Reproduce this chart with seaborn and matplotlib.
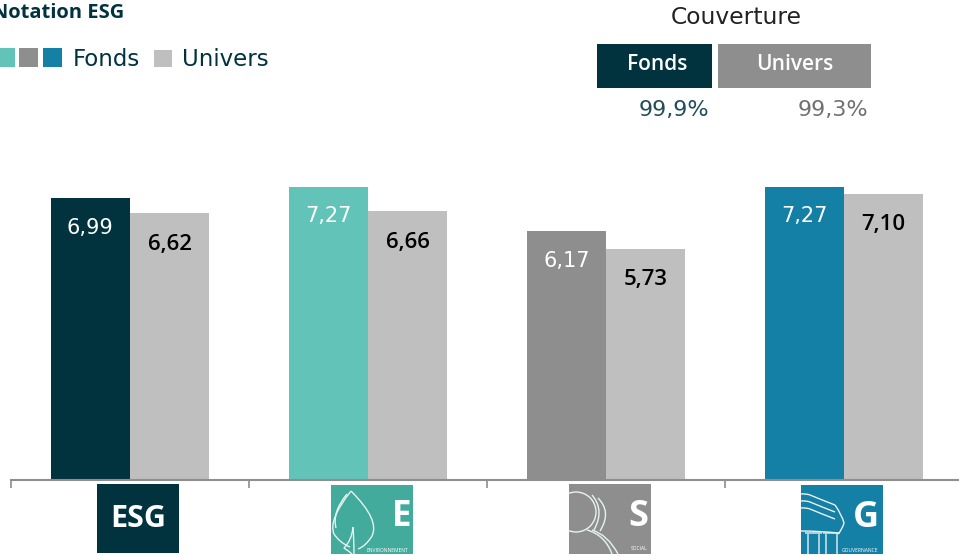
"""
    Notation ESG : Fonds against Univers
"""

#===== LIBRARIES =====================================
import pandas as pd
import seaborn as sns
from matplotlib import pyplot as plt
from matplotlib.patches import Rectangle, PathPatch, Circle
from matplotlib.path import Path

#===== DATA ==========================================
categories = ["ESG", "E", "S", "G"]
fonds_values = [6.99, 7.27, 6.17, 7.27]
univers_values = [6.62, 6.66, 5.73, 7.10]
series_names = ["Fonds", "Univers"]
couverture_values = ["99,9%", "99,3%"]

#===== COLOURS =======================================
DARK = "#01333F"
TEAL = "#62C4B8"
GREY = "#8E8E8E"
BLUE = "#1580A5"
LIGHT = "#BFBFBF"
LOGO_TEAL = "#42AB9B"
fonds_colors = [DARK, TEAL, GREY, BLUE]

W, H = 959, 556
FONT = "DejaVu Sans"
FONT_SEMI = "Open Sans"

sns.set_theme(style="white")
plt.rcParams["font.family"] = FONT

fig = plt.figure(figsize=(W / 100, H / 100), dpi=100)

# axes in pixels: baseline at y=480, first tick at x=11
ax = fig.add_axes([11 / W, (H - 480) / H, (W - 11) / W, 480 / H])

df = pd.DataFrame({
    "categorie": categories * 2,
    "serie": [series_names[0]] * 4 + [series_names[1]] * 4,
    "note": fonds_values + univers_values,
})
sns.barplot(data=df, x="categorie", y="note", hue="serie", order=categories,
            palette=[DARK, LIGHT], width=0.667, gap=0, saturation=1,
            linewidth=0, legend=False, ax=ax)

for bar, col in zip(ax.containers[0], fonds_colors):
    bar.set_facecolor(col)

for cont, vals, col in zip(ax.containers, [fonds_values, univers_values], ["white", "black"]):
    labels = [f"{v:.2f}".replace(".", ",") for v in vals]
    if col == "white":
        ax.bar_label(cont, labels=labels, padding=-28.5, color=col, fontsize=15)
    else:
        ax.bar_label(cont, labels=labels, padding=-30, color=col, fontsize=16,
                     family=FONT_SEMI, fontweight="semibold")

ax.set_xlim(-0.5, (W - 11) / 238 - 0.5)
ax.set_ylim(0, 480 / 40.35)
ax.set_xticks([-0.5, 0.5, 1.5, 2.5])
ax.set_xticklabels([])
ax.set_yticks([])
ax.set_xlabel("")
ax.set_ylabel("")
ax.tick_params(axis="x", bottom=True, length=6, width=1.2, color=GREY)
sns.despine(ax=ax, left=True)
ax.spines["bottom"].set_color(GREY)
ax.spines["bottom"].set_linewidth(1.5)

# overlay in pixel coordinates for header, legend and logos
ov = fig.add_axes([0, 0, 1, 1], facecolor="none")
ov.set_xlim(0, W)
ov.set_ylim(H, 0)
ov.axis("off")


def box(x0, y0, x1, y1, col):
    ov.add_patch(Rectangle((x0, y0), x1 - x0, y1 - y0, facecolor=col, edgecolor="none"))


def curve(points, lw=1.0):
    # quadratic segments: start, control, end, control, end ...
    codes = [Path.MOVETO] + [Path.CURVE3] * (len(points) - 1)
    ov.add_patch(PathPatch(Path(points, codes), facecolor="none", edgecolor="#E8F2F2", lw=lw))


# title and legend
ov.text(-8, 13, "Notation ESG", color=DARK, fontsize=14.5, family=FONT_SEMI, fontweight="bold", va="center", clip_on=False)
for x0, x1, col in [(-4, 15, TEAL), (19, 38, GREY), (43, 62, BLUE)]:
    box(x0, 48, x1, 67, col)
box(154, 50, 172, 67, LIGHT)
ov.text(73, 60, series_names[0], color=DARK, fontsize=16.5, va="center")
ov.text(182, 60, series_names[1], color=DARK, fontsize=16.5, va="center")

# couverture block
ov.text(736, 17, "Couverture", color="#222222", fontsize=16.8, ha="center", va="center")
box(597, 44, 712, 88, DARK)
box(718, 44, 871, 88, GREY)
ov.text(657, 64, series_names[0], color="white", fontsize=15, family=FONT_SEMI, fontweight="semibold", ha="center", va="center")
ov.text(795, 64, series_names[1], color="white", fontsize=15, family=FONT_SEMI, fontweight="semibold", ha="center", va="center")
ov.text(709, 110, couverture_values[0], color="#1F4E5A", fontsize=16, ha="right", va="center")
ov.text(868, 110, couverture_values[1], color="#707070", fontsize=16, ha="right", va="center")

# logos
box(97, 484, 179, 553, DARK)
ov.text(138, 519, "ESG", color="white", fontsize=22, family=FONT_SEMI, fontweight="bold", ha="center", va="center")

box(331, 485, 413, 554, LOGO_TEAL)
ov.text(402, 517, "E", color="white", fontsize=25, family=FONT_SEMI, fontweight="bold", ha="center", va="center")
ov.text(387, 550, "ENVIRONNEMENT", color="white", fontsize=3.6, family=FONT_SEMI, ha="center", va="center")
curve([(351, 491), (328, 520), (334, 534), (340, 543), (350, 547)])
curve([(351, 491), (380, 520), (372, 536), (366, 546), (358, 549)])
curve([(347, 494), (332, 512), (336, 528)])
curve([(353, 527), (352, 540), (344, 548), (350, 552), (352, 554)])
curve([(353, 527), (354, 540), (354, 554)])

box(569, 484, 651, 554, GREY)
ov.text(638, 517, "S", color="white", fontsize=26, family=FONT_SEMI, fontweight="bold", ha="center", va="center")
ov.text(639, 549, "SOCIAL", color="white", fontsize=3.6, family=FONT_SEMI, ha="center", va="center")
tile = Rectangle((569, 484), 82, 70, transform=ov.transData)
c = Circle((576, 512), 20, facecolor="none", edgecolor="#E8F2F2", lw=1.0)
ov.add_patch(c)
c.set_clip_path(tile)
curve([(592, 495), (605, 510), (594, 530)])
curve([(598, 498), (612, 512), (600, 531)])
curve([(587, 530), (605, 535), (612, 554)])
curve([(592, 530), (608, 535), (618, 554)])

box(801, 485, 883, 554, BLUE)
ov.text(866, 518, "G", color="white", fontsize=26, family=FONT_SEMI, fontweight="bold", ha="center", va="center")
ov.text(860, 550, "GOUVERNANCE", color="white", fontsize=3.6, family=FONT_SEMI, ha="center", va="center")
for dy in [0, 7, 14]:
    curve([(801, 494 + dy), (806, 494 + dy - 0.5), (810, 495 + dy), (822, 500 + dy), (835, 505 + dy)])
curve([(835, 505), (842, 515), (844, 523), (842, 530), (838, 534)])
curve([(801, 531), (820, 531), (838, 533)])
for x0 in [808, 826]:
    curve([(x0, 534), (x0, 545), (x0, 554)])
    curve([(x0 + 11, 534), (x0 + 11, 545), (x0 + 11, 554)])
    curve([(x0 - 3, 533), (x0 + 5, 533), (x0 + 14, 533)])

fig.savefig("out.png", dpi=100)
